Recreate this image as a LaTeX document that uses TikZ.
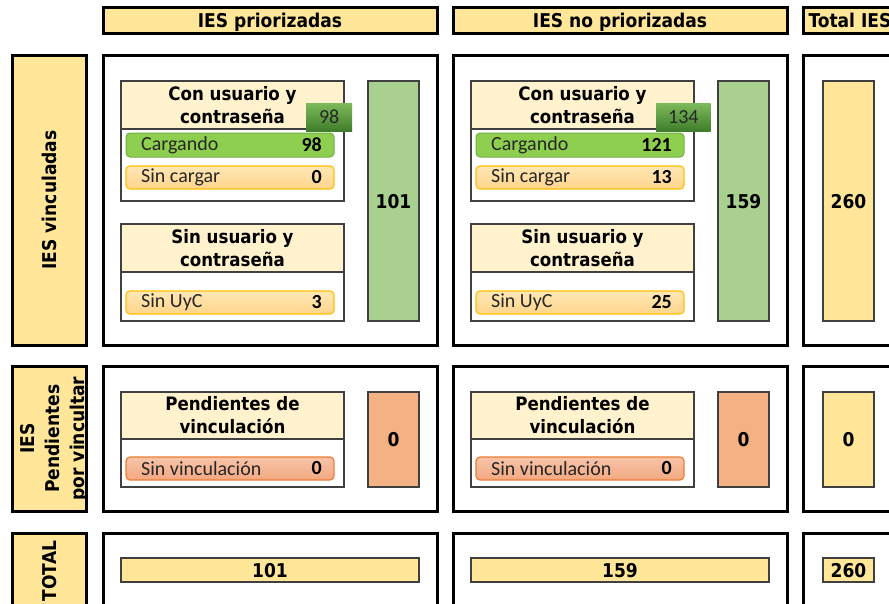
\documentclass[tikz,border=0pt]{standalone}
\usepackage{fontspec}
\IfFontExistsTF{DejaVu Sans Condensed}{\newfontfamily\hdfont{DejaVu Sans Condensed}}{\newfontfamily\hdfont[Scale=0.9]{DejaVu Sans}}
\newfontfamily\lbfont{Carlito}
\definecolor{yel}{HTML}{FFE699}
\definecolor{lyel}{HTML}{FFF2CC}
\definecolor{gcol}{HTML}{A9D08E}
\definecolor{ocol}{HTML}{F4B183}
\definecolor{cgreen}{HTML}{8FCF50}
\definecolor{cgreenb}{HTML}{72B043}
\definecolor{tgray}{HTML}{404040}
\definecolor{sctop}{HTML}{FFE7B5}
\definecolor{scbot}{HTML}{FFD58C}
\definecolor{scbord}{HTML}{FFC000}
\definecolor{svtop}{HTML}{F7C4A8}
\definecolor{svbot}{HTML}{F2A882}
\definecolor{svbord}{HTML}{ED7D31}
\definecolor{bdtop}{HTML}{7DBA5C}
\definecolor{bdbot}{HTML}{3F7D2A}
\newcommand\bx[7]{\node[#1, minimum width={#5-#3}, minimum height={#6-#4}, inner sep=0pt, outer sep=0pt] (#2) at ({(#3+#5)/2},{(#4+#6)/2}) {#7};}
\newcommand\barrow[6]{% style, name, y1, y2, label, number
  \bx{#1}{#2}{126}{#3}{334}{#4}{}
  \node[btxt, anchor=west] (#2l) at ([xshift=15pt]#2.west) {#5};
  \node[bnum, anchor=east] (#2n) at ([xshift=-12pt]#2.east) {#6};}
\newcommand\iescol[8]{%
  \begin{scope}[xshift=#2pt]
  \bx{hdr}{#1h}{103}{7}{437}{33}{#3}
  % row 1
  \bx{outer}{#1o1}{103}{55}{437}{345}{}
  \bx{thead}{#1t1h}{121}{81}{344}{129}{Con usuario y\\contraseña}
  \bx{tbody}{#1t1b}{121}{129}{344}{201}{}
  \node[badge, anchor=west] (#1bd) at (306,117) {#4};
  \barrow{gbar}{#1ca}{133}{157}{Cargando}{#5}
  \barrow{ybar}{#1sc}{166}{189}{Sin cargar}{#6}
  \bx{thead}{#1t2h}{121}{224}{344}{272}{Sin usuario y\\contraseña}
  \bx{tbody}{#1t2b}{121}{272}{344}{321}{}
  \barrow{ybar}{#1su}{291}{314}{Sin UyC}{#7}
  \bx{colg}{#1g}{368}{81}{419}{321}{#8}
  % row 2
  \bx{outer}{#1o2}{103}{366}{437}{511}{}
  \bx{thead}{#1t3h}{121}{392}{344}{439}{Pendientes de\\vinculación}
  \bx{tbody}{#1t3b}{121}{439}{344}{487}{}
  \barrow{obar}{#1sv}{457}{480}{Sin vinculación}{0}
  \bx{colo}{#1p}{368}{392}{419}{487}{0}
  % row 3
  \bx{outer}{#1o3}{103}{533}{437}{640}{}
  \bx{colt}{#1t}{121}{558}{419}{582}{#8}
  \end{scope}}
\begin{document}
\begin{tikzpicture}[x=1pt,y=-1pt,
  numfont/.style={font=\hdfont\bfseries\fontsize{19}{21}\selectfont, text depth=0pt},
  outer/.style={draw=black, line width=3pt, fill=white},
  hdr/.style={draw=black, line width=3pt, fill=yel, font=\hdfont\bfseries\fontsize{19}{21}\selectfont, text depth=0pt},
  lab/.style={draw=black, line width=3pt, fill=yel},
  labfill/.style={fill=yel},
  labtxt/.style={font=\hdfont\bfseries\fontsize{19}{25}\selectfont, inner sep=0pt},
  thead/.style={draw=tgray, line width=1.3pt, fill=lyel, align=center, font=\hdfont\bfseries\fontsize{18.5}{23}\selectfont},
  tbody/.style={draw=tgray, line width=1.3pt, fill=white},
  badge/.style={top color=bdtop, bottom color=bdbot, minimum width=46pt, minimum height=28pt, inner xsep=12pt, inner ysep=0pt, font=\lbfont\fontsize{20}{22}\selectfont, text=black!85},
  gbar/.style={draw=cgreenb, line width=1pt, fill=cgreen, rounded corners=4pt},
  ybar/.style={draw=scbord, line width=1.2pt, top color=sctop, bottom color=scbot, rounded corners=4pt},
  obar/.style={draw=svbord, line width=1.2pt, top color=svtop, bottom color=svbot, rounded corners=4pt},
  btxt/.style={font=\lbfont\fontsize{20}{22}\selectfont, inner sep=0pt, text=black!85},
  bnum/.style={font=\lbfont\bfseries\fontsize{20}{22}\selectfont, inner sep=0pt},
  colg/.style={draw=tgray, line width=1.3pt, fill=gcol, numfont},
  colo/.style={draw=tgray, line width=1.3pt, fill=ocol, numfont},
  coly/.style={draw=tgray, line width=1.3pt, fill=yel, numfont},
  colt/.style={draw=tgray, line width=1.3pt, fill=yel, numfont}]
\useasboundingbox (0,0) rectangle (889,603);
\clip (0,0) rectangle (889,603);
% row labels
\bx{lab}{lv}{12}{55}{86}{345}{}
\node[labtxt, rotate=90] (lvt) at (49,200) {IES vinculadas};
\bx{labfill}{lp}{12}{366}{86}{511}{}
\begin{scope}
  \clip (12,366) rectangle (84,511);
  \node[labtxt, rotate=90, align=center] (lpt) at (54,438.5) {IES\\Pendientes\\por vincultar};
\end{scope}
\draw[line width=3pt] (lp.north west) rectangle (lp.south east);
\bx{lab}{ltot}{12}{533}{86}{640}{}
\node[labtxt, rotate=90] (ltt) at (50,571) {TOTAL};
% two main columns
\iescol{a}{0}{IES priorizadas}{98}{98}{0}{3}{101}
\iescol{b}{350}{IES no priorizadas}{134}{121}{13}{25}{159}
% total column
\bx{hdr}{ch}{803}{7}{897}{33}{Total IES}
\bx{outer}{co1}{803}{55}{960}{345}{}
\bx{coly}{cy1}{823}{81}{874}{321}{260}
\bx{outer}{co2}{803}{366}{960}{511}{}
\bx{coly}{cy2}{823}{392}{874}{487}{0}
\bx{outer}{co3}{803}{533}{960}{640}{}
\bx{colt}{cy3}{823}{558}{874}{582}{260}
\end{tikzpicture}
\end{document}
